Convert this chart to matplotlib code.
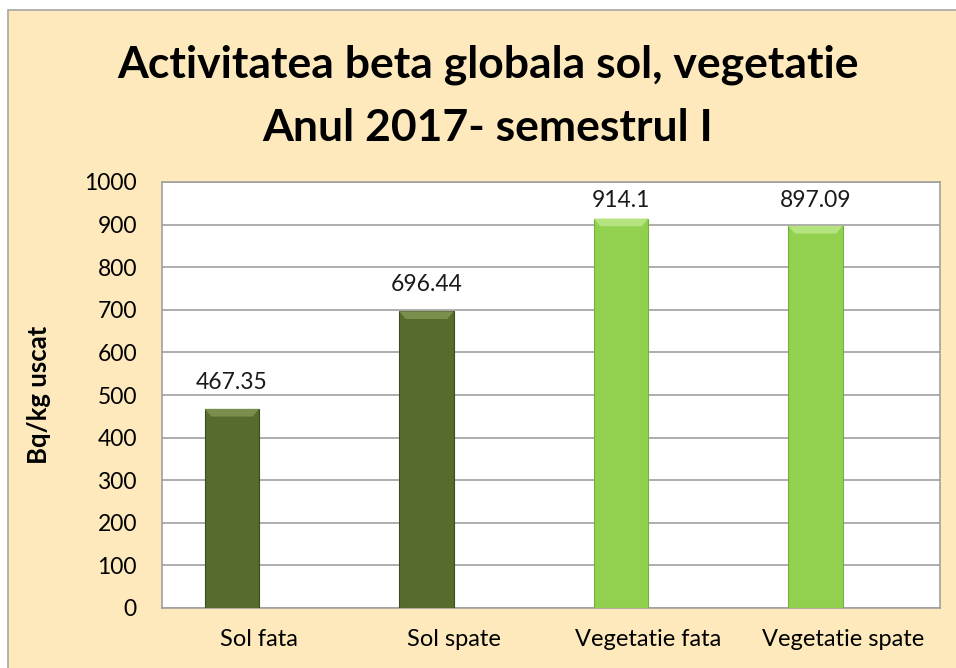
import matplotlib
matplotlib.use('Agg')
import numpy as np
import matplotlib.pyplot as plt
from matplotlib.patches import Rectangle, Polygon

# Data
categories = ["Sol fata", "Sol spate", "Vegetatie fata", "Vegetatie spate"]
values = [467.35, 696.44, 914.1, 897.09]
value_labels = ["467.35", "696.44", "914.1", "897.09"]
bar_colors = ["#566b2c", "#566b2c", "#92d050", "#92d050"]
top_colors = ["#7a8f4c", "#7a8f4c", "#b5e37f", "#b5e37f"]
edge_colors = ["#3c4c1e", "#3c4c1e", "#76b03a", "#76b03a"]
yticks = list(range(0, 1001, 100))
title_lines = ["Activitatea beta globala sol, vegetatie", "Anul 2017- semestrul I"]

FONT = ["Lato", "DejaVu Sans"]
plt.rcParams['font.family'] = FONT

fig = plt.figure(figsize=(9.56, 6.68), dpi=100, facecolor="white")

# chart area (cream background with light border)
fig.patches.append(Rectangle((8 / 956, -0.05), 1.1, (668 - 10) / 668 + 0.05,
                             transform=fig.transFigure, facecolor="#fde9bb",
                             edgecolor="#a6a6a6", linewidth=1.2, zorder=-5))

ax = fig.add_axes([162 / 956, 60 / 668, 778 / 956, 426 / 668])
ax.set_zorder(2)
ax.set_facecolor("white")

x = np.arange(len(categories))
offset = -0.14
width = 0.28
ax.set_xlim(-0.5, len(categories) - 0.5)
ax.set_ylim(0, 1000)

bars = ax.bar(x + offset, values, width=width, color=bar_colors,
              edgecolor=edge_colors, linewidth=0.8, zorder=3)

# simple bevel on top of each bar
bevel = 18
for xi, v, tc in zip(x, values, top_colors):
    l = xi + offset - width / 2
    r = xi + offset + width / 2
    d = width * 0.12
    ax.add_patch(Polygon([[l, v], [r, v], [r - d, v - bevel], [l + d, v - bevel]],
                         closed=True, facecolor=tc, edgecolor="none", zorder=4))

# data labels, kept inside the plot area like Excel does
for xi, v, lab in zip(x, values, value_labels):
    y_lab = min(v + 47, 941)
    ax.text(xi + offset, y_lab, lab, ha="center", va="baseline",
            fontsize=16.5, color="#1a1a1a", zorder=5)

ax.set_yticks(yticks)
ax.set_xticks(x)
ax.set_xticklabels(categories, fontsize=17)
ax.tick_params(axis='y', length=0, pad=18, labelsize=16.5)
ax.tick_params(axis='x', length=0, pad=15)
ax.grid(axis='y', color="#a0a0a0", linewidth=1.2, zorder=0)
ax.set_axisbelow(True)
for s in ax.spines.values():
    s.set_color("#a0a0a0")
    s.set_linewidth(1.2)

ax.set_ylabel("Bq/kg uscat", fontsize=18.5, fontweight="bold", labelpad=24)

fig.text(488 / 956, 1 - 65 / 668, title_lines[0], ha="center", va="center",
         fontsize=32, fontweight="bold", color="black")
fig.text(488 / 956, 1 - 128 / 668, title_lines[1], ha="center", va="center",
         fontsize=32, fontweight="bold", color="black")

fig.savefig("out.png", dpi=100, facecolor=fig.get_facecolor())
